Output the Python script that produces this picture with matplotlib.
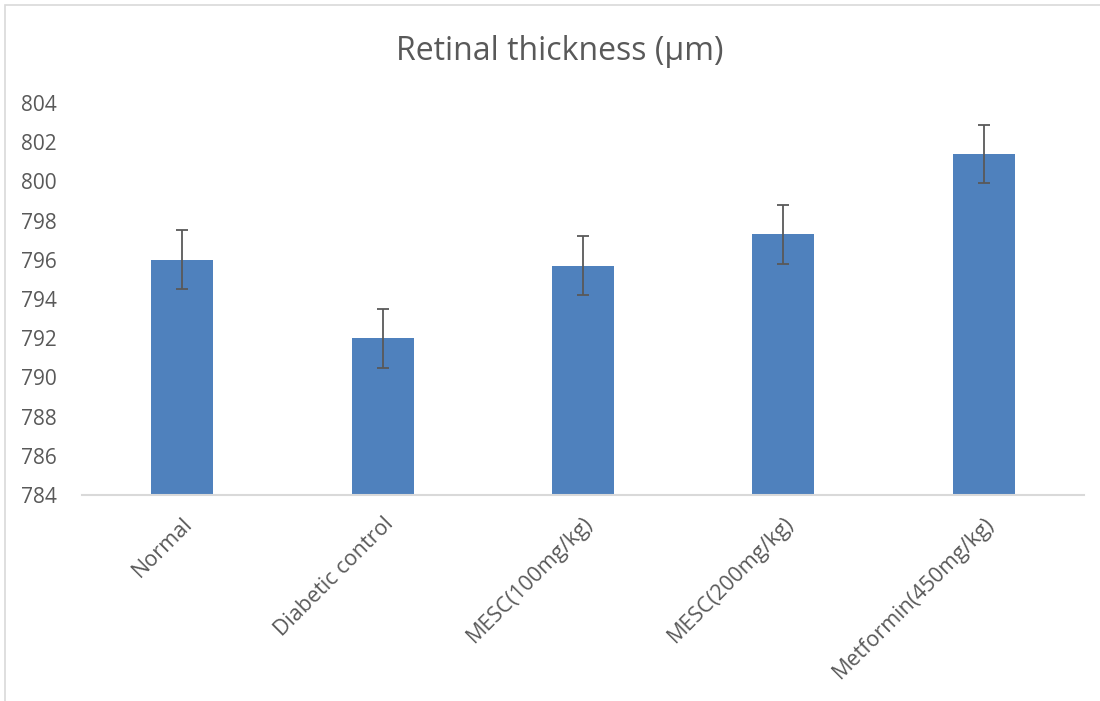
import matplotlib.pyplot as plt
import numpy as np
from matplotlib.patches import Rectangle

plt.rcParams["font.family"] = ["Open Sans", "DejaVu Sans"]

GROUPS = ["Normal", "Diabetic control", "MESC(100mg/kg)",
          "MESC(200mg/kg)", "Metformin(450mg/kg)"]
THICKNESS = [796.0, 792.0, 795.7, 797.3, 801.4]
ERR = [1.5, 1.5, 1.5, 1.5, 1.5]
YTICKS = list(range(784, 805, 2))

BAR_C = "#4F81BD"
TXT_C = "#595959"

fig = plt.figure(figsize=(11, 7.01), dpi=100)
ax = fig.add_axes([0.0745, 0.2939, 0.911, 0.5591])

x = np.arange(len(GROUPS))
ax.bar(x, THICKNESS, width=0.31, color=BAR_C, zorder=2)
ax.errorbar(x, THICKNESS, yerr=ERR, fmt="none", ecolor=TXT_C,
            elinewidth=1.3, capsize=4.5, capthick=1.3, zorder=3)

ax.set_xlim(-0.5, len(GROUPS) - 0.5)
ax.set_ylim(784, 804)
ax.set_yticks(YTICKS)
ax.set_xticks(x)
ax.set_xticklabels(GROUPS, rotation=45, ha="right", rotation_mode="anchor")
ax.tick_params(axis="both", length=0, labelsize=15, labelcolor=TXT_C)
ax.tick_params(axis="x", labelsize=15.5, pad=13)
ax.tick_params(axis="y", pad=18)

for s in ["top", "right", "left"]:
    ax.spines[s].set_visible(False)
ax.spines["bottom"].set_color("#d9d9d9")
ax.spines["bottom"].set_linewidth(1.5)

fig.text(0.509, 0.926, "Retinal thickness (\u00b5m)", ha="center", va="center",
         fontsize=23, color=TXT_C)

# light chart-area border like the Excel export
fig.patches.append(Rectangle((5 / 1100, -0.1), 1.2, 1.1 - 5 / 701,
                             transform=fig.transFigure, fill=False,
                             edgecolor="#d9d9d9", lw=1.2))

fig.savefig("out.png", dpi=100)
